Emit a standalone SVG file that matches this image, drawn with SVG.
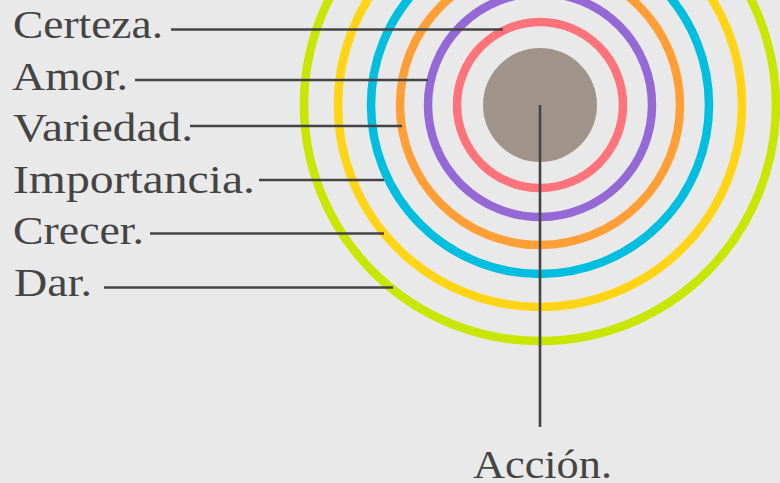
<svg xmlns="http://www.w3.org/2000/svg" width="780" height="483" viewBox="0 0 780 483">
<style>
.ring{fill:none;stroke-width:8.5}
.lbl{font-family:"Liberation Serif","DejaVu Serif",serif;font-size:41px;fill:#444}
.ln{stroke:#444;stroke-width:2.6;fill:none}
</style>
<rect width="780" height="483" fill="#e9e9e9"/>
<g id="rings">
<circle id="ring-green" class="ring" cx="540" cy="105" r="236" stroke="#c9e600"/>
<circle id="ring-yellow" class="ring" cx="540" cy="105" r="202" stroke="#ffd515"/>
<circle id="ring-cyan" class="ring" cx="540" cy="105" r="169" stroke="#00bee0"/>
<circle id="ring-orange" class="ring" cx="540" cy="105" r="140" stroke="#ff9f35"/>
<circle id="ring-purple" class="ring" cx="540" cy="105" r="112" stroke="#9469d6"/>
<circle id="ring-red" class="ring" cx="540" cy="105" r="83" stroke="#ff737a"/>
<circle id="core" cx="540" cy="105" r="57" fill="#a0948a"/>
</g>
<g id="connectors">
<line class="ln" x1="171" y1="29.5" x2="503" y2="29.5"/>
<line class="ln" x1="135" y1="80" x2="428" y2="80"/>
<line class="ln" x1="190" y1="126" x2="402" y2="126"/>
<line class="ln" x1="259" y1="180" x2="384" y2="180"/>
<line class="ln" x1="150" y1="233.5" x2="384" y2="233.5"/>
<line class="ln" x1="104" y1="287.5" x2="393" y2="287.5"/>
<line class="ln" x1="540" y1="105" x2="540" y2="427"/>
</g>
<g id="n-certeza"><text class="lbl" x="13" y="38" textLength="150" lengthAdjust="spacingAndGlyphs">Certeza.</text></g>
<g id="n-amor"><text class="lbl" x="12" y="89.5" textLength="116" lengthAdjust="spacingAndGlyphs">Amor.</text></g>
<g id="n-variedad"><text class="lbl" x="13" y="141" textLength="180" lengthAdjust="spacingAndGlyphs">Variedad.</text></g>
<g id="n-importancia"><text class="lbl" x="13" y="192.5" textLength="242" lengthAdjust="spacingAndGlyphs">Importancia.</text></g>
<g id="n-crecer"><text class="lbl" x="13" y="244" textLength="131" lengthAdjust="spacingAndGlyphs">Crecer.</text></g>
<g id="n-dar"><text class="lbl" x="14" y="295.5" textLength="78" lengthAdjust="spacingAndGlyphs">Dar.</text></g>
<g id="n-accion"><text class="lbl" x="473" y="478" textLength="139" lengthAdjust="spacingAndGlyphs">Acción.</text></g>
</svg>
